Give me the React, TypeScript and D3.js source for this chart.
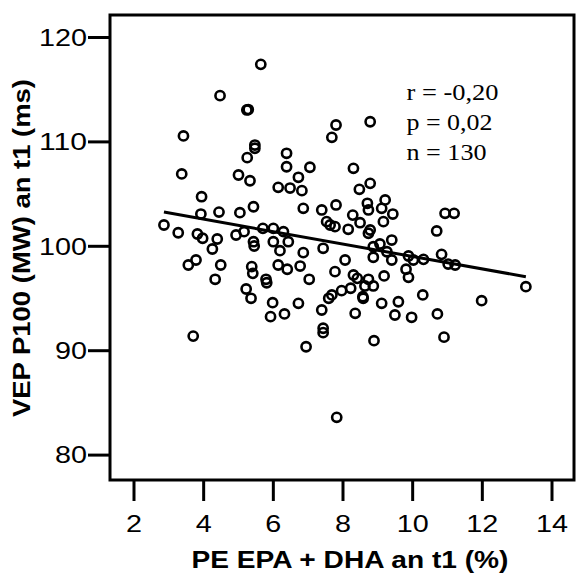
import React from "react";
import * as d3 from "d3";

const xValues = [
  5.64, 4.47, 5.24, 5.28, 3.42, 5.47, 5.47, 5.25, 6.38, 6.38,
  3.37, 5.0, 5.33, 6.14, 6.48, 3.94, 7.8, 7.68, 8.78, 7.05,
  8.3, 6.72, 6.82, 8.78, 8.47, 5.43, 3.92, 4.44, 5.04, 2.86,
  3.27, 3.82, 3.97, 4.39, 4.25, 4.93, 5.16, 5.7, 6.0, 6.29,
  5.43, 5.45, 6.0, 6.19, 3.78, 3.56, 4.49, 5.38, 5.41, 6.14,
  6.4, 4.33, 5.79, 5.81, 5.22, 5.36, 5.98, 5.92, 6.32, 9.21,
  6.86, 7.39, 7.8, 8.7, 8.73, 9.11, 9.43, 8.28, 8.49, 7.53,
  7.63, 7.77, 8.15, 8.78, 8.73, 9.16, 6.43, 7.43, 6.86, 8.87,
  9.06, 9.4, 9.26, 9.4, 8.87, 9.88, 10.02, 10.31, 8.06, 6.77,
  7.77, 8.3, 8.41, 8.73, 8.87, 8.63, 9.18, 9.81, 9.88, 7.03,
  8.22, 7.96, 7.68, 7.59, 8.57, 8.58, 10.29, 6.72, 7.39, 8.35,
  9.11, 9.59, 9.49, 9.97, 7.43, 10.93, 11.19, 10.69, 10.83, 11.02,
  11.22, 13.25, 11.98, 10.71, 7.43, 6.94, 8.89, 7.82, 3.7, 10.9,
];

const yValues = [
  117.43, 114.43, 113.06, 113.1, 110.57, 109.7, 109.39, 108.49, 108.91, 107.62,
  106.93, 106.83, 106.28, 105.65, 105.58, 104.75, 111.62, 110.44, 111.93, 107.57,
  107.47, 106.61, 105.33, 106.03, 105.46, 103.79, 103.09, 103.28, 103.22, 102.04,
  101.3, 101.18, 100.77, 100.7, 99.74, 101.08, 101.4, 101.72, 101.72, 101.4,
  100.44, 100.03, 100.44, 99.58, 98.69, 98.21, 98.21, 98.05, 97.41, 98.21,
  97.8, 96.84, 96.84, 96.51, 95.91, 95.02, 94.6, 93.26, 93.52, 104.44,
  103.64, 103.48, 103.96, 104.12, 103.48, 103.64, 103.09, 102.99, 102.26, 102.36,
  102.04, 101.88, 101.63, 101.56, 101.25, 102.36, 100.44, 99.81, 99.39, 99.96,
  100.22, 100.6, 99.48, 98.69, 98.95, 99.07, 98.69, 98.75, 98.69, 98.11,
  97.57, 97.25, 96.93, 96.84, 96.2, 96.2, 97.16, 97.8, 97.03, 96.84,
  95.98, 95.75, 95.34, 95.02, 95.17, 95.02, 95.34, 94.54, 93.9, 93.58,
  94.54, 94.69, 93.42, 93.2, 92.15, 103.16, 103.16, 101.47, 99.23, 98.3,
  98.21, 96.13, 94.79, 93.52, 91.73, 90.38, 90.96, 83.62, 91.4, 91.3,
];

const xTicks = [2, 4, 6, 8, 10, 12, 14];
const yTicks = [80, 90, 100, 110, 120];

const fitIntercept = 104.98;
const fitSlope = -0.5956;

const statLines = ["r = -0,20", "p = 0,02", "n = 130"];
const statWidths = [92, 86, 80];

const xTitle = "PE EPA + DHA an t1 (%)";
const yTitle = "VEP P100 (MW) an t1 (ms)";

export default function App() {
  const W = 576;
  const H = 573;
  const frame = { left: 110, right: 574, top: 15, bottom: 480 };

  const x = d3.scaleLinear().domain([2, 14]).range([134, 552]);
  const y = d3.scaleLinear().domain([80, 120]).range([455.1, 37.5]);

  const points = xValues.map((v, i) => ({ x: v, y: yValues[i] }));
  const [xMin, xMax] = d3.extent(xValues) as [number, number];
  const fitLine = d3
    .line<number>()
    .x((d) => x(d))
    .y((d) => y(fitIntercept + fitSlope * d));

  const sans = "'Liberation Sans', Arial, sans-serif";
  const serif = "'Liberation Serif', 'Times New Roman', serif";

  return (
    <svg
      width={W}
      height={H}
      viewBox={`0 0 ${W} ${H}`}
      style={{ position: "absolute", left: 0, top: 0, background: "#fff" }}
    >
      <rect x={0} y={0} width={W} height={H} fill="#fff" />
      {/* points */}
      <g>
        {points.map((p, i) => (
          <circle
            key={i}
            cx={x(p.x)}
            cy={y(p.y)}
            r={4.6}
            fill="none"
            stroke="#000"
            strokeWidth={2.6}
          />
        ))}
      </g>
      {/* fit line */}
      <path d={fitLine([xMin, xMax]) || ""} fill="none" stroke="#000" strokeWidth={3} />
      {/* frame */}
      <rect
        x={frame.left}
        y={frame.top}
        width={frame.right - frame.left}
        height={frame.bottom - frame.top}
        fill="none"
        stroke="#000"
        strokeWidth={3}
      />
      {/* x ticks */}
      {xTicks.map((t) => (
        <g key={"x" + t}>
          <line x1={x(t)} x2={x(t)} y1={frame.bottom} y2={501} stroke="#000" strokeWidth={3} />
          <text
            x={x(t)}
            y={532}
            textAnchor="middle"
            fontFamily={sans}
            fontSize={23}
            textLength={String(t).length * 16}
            lengthAdjust="spacingAndGlyphs"
          >
            {t}
          </text>
        </g>
      ))}
      {/* y ticks */}
      {yTicks.map((t) => (
        <g key={"y" + t}>
          <line x1={88} x2={frame.left} y1={y(t)} y2={y(t)} stroke="#000" strokeWidth={3} />
          <text
            x={87}
            y={y(t) + 8.3}
            textAnchor="end"
            fontFamily={sans}
            fontSize={23}
            textLength={String(t).length * 16}
            lengthAdjust="spacingAndGlyphs"
          >
            {t}
          </text>
        </g>
      ))}
      {/* axis titles */}
      <text
        x={350}
        y={568}
        textAnchor="middle"
        fontFamily={sans}
        fontWeight="bold"
        fontSize={23}
        textLength={317}
        lengthAdjust="spacingAndGlyphs"
      >
        {xTitle}
      </text>
      <text
        transform="translate(30,248) rotate(-90)"
        x={0}
        y={0}
        textAnchor="middle"
        fontFamily={sans}
        fontWeight="bold"
        fontSize={23}
        textLength={338}
        lengthAdjust="spacingAndGlyphs"
      >
        {yTitle}
      </text>
      {/* stats */}
      {statLines.map((s, i) => (
        <text
          key={s}
          x={406.5}
          y={100 + i * 30}
          fontFamily={serif}
          fontSize={23}
          textLength={statWidths[i]}
          lengthAdjust="spacingAndGlyphs"
        >
          {s}
        </text>
      ))}
    </svg>
  );
}
